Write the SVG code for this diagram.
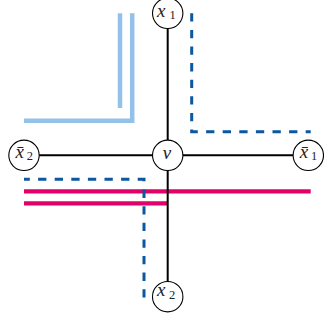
<svg xmlns="http://www.w3.org/2000/svg" width="324" height="325" viewBox="0 0 324 325">
<style>
.lb{fill:none;stroke:#94c1e9;stroke-width:4.5}
.db{fill:none;stroke:#0b57a0;stroke-width:3;stroke-dasharray:8.3 8.3}
.mg{fill:none;stroke:#e2006b;stroke-width:4.3}
.edge{stroke:#000;stroke-width:2;fill:none}
.node circle{fill:#fff;stroke:#000;stroke-width:1.1}
.lab{font-family:"Liberation Serif",serif;font-style:italic;font-size:19px;fill:#222}
.sub{font-family:"Liberation Serif",serif;font-style:normal;font-size:12.5px;fill:#222}
</style>
<rect width="324" height="325" fill="#fff"/>
<g id="regions">
<path class="lb" d="M120 13.3V108"/>
<path class="lb" d="M132.2 13.3V120.8H24"/>
<path class="db" d="M191.7 13.3V131.7H310.7"/>
<path class="mg" d="M24 191.3H310.7"/>
<path class="mg" d="M24 203.3H167.7"/>
<path class="db" d="M144 297.5V179.3H24"/>
</g>
<g id="connectors">
<line class="edge" x1="167.7" y1="13.3" x2="167.7" y2="296.7"/>
<line class="edge" x1="24" y1="155.3" x2="308.3" y2="155.3"/>
</g>
<g id="node-v" class="node">
<circle cx="167.7" cy="155.3" r="15.2"/>
<text class="lab" x="167" y="158.5" text-anchor="middle">v</text>
</g>
<g id="node-x1" class="node">
<circle cx="167.7" cy="13.3" r="15.2"/>
<text class="lab" x="157" y="16.8">x</text><text class="sub" x="169.5" y="18.5">1</text>
</g>
<g id="node-x2" class="node">
<circle cx="167.7" cy="296.7" r="15.2"/>
<text class="lab" x="157" y="296.2">x</text><text class="sub" x="169" y="299.3">2</text>
</g>
<g id="node-xbar2" class="node">
<circle cx="24" cy="155.3" r="15.2"/>
<text class="lab" x="15.5" y="158">x̄</text><text class="sub" x="26.8" y="159.5">2</text>
</g>
<g id="node-xbar1" class="node">
<circle cx="308.3" cy="155.3" r="15.2"/>
<text class="lab" x="299.8" y="158">x̄</text><text class="sub" x="311.1" y="159.5">1</text>
</g>
</svg>
